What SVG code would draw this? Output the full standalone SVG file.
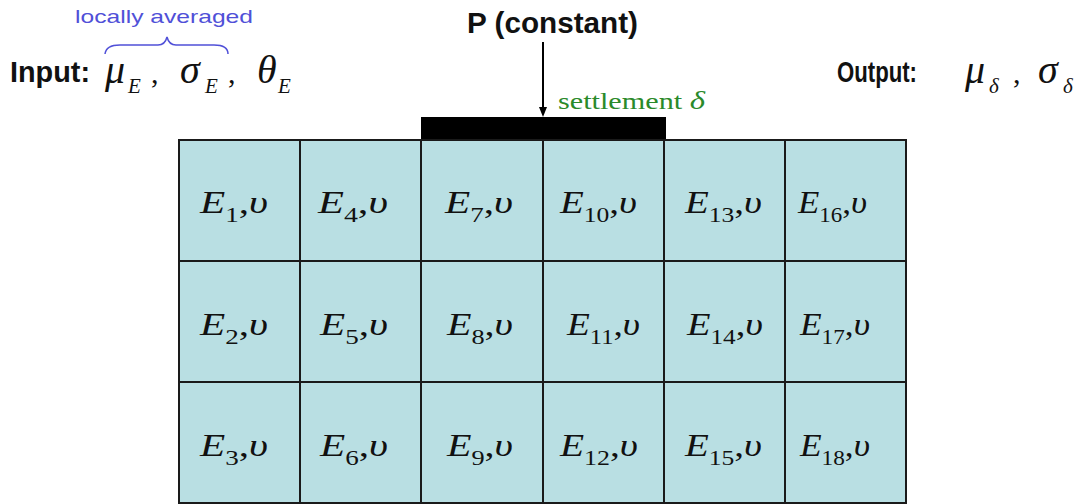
<svg xmlns="http://www.w3.org/2000/svg" width="1086" height="504" viewBox="0 0 1086 504">
<defs>
<style>
.cell{fill:#b9dfe3;stroke:#1a1a1a;stroke-width:2}
.lbl{font-family:"Liberation Serif",serif;font-style:italic;font-size:32px;fill:#111}
.sub{font-style:normal;font-size:21px}
.up{font-style:normal}
.hd{font-family:"Liberation Sans",Arial,sans-serif;font-weight:bold;font-size:29px;fill:#111}
.math{font-family:"Liberation Serif",serif;font-style:italic;font-size:40px;fill:#111}
.msub{font-family:"Liberation Serif",serif;font-style:italic;font-size:21px;fill:#111}
.cm{font-family:"Liberation Serif",serif;font-size:30px;fill:#111}
</style>
</defs>
<rect width="1086" height="504" fill="#fff"/>

<g id="header">
<text x="75" y="23" font-family="Liberation Sans,Arial,sans-serif" font-size="19" fill="#5050d8" textLength="178" lengthAdjust="spacingAndGlyphs">locally averaged</text>
<path d="M105,54 Q106,45 120,45 L158,45 Q165,45 167,37 Q169,45 176,45 L214,45 Q228,45 228,54" fill="none" stroke="#5050d8" stroke-width="1.5"/>
<text class="hd" x="10" y="82" textLength="80" lengthAdjust="spacingAndGlyphs">Input:</text>
<text class="math" x="105" y="83">μ</text><text class="msub" x="128" y="93">E</text><text class="cm" x="151" y="83">,</text>
<text class="math" x="180" y="83">σ</text><text class="msub" x="205" y="93">E</text><text class="cm" x="228" y="83">,</text>
<text class="math" x="257" y="83">θ</text><text class="msub" x="278" y="93">E</text>
<text class="hd" x="837" y="82" textLength="80" lengthAdjust="spacingAndGlyphs">Output:</text>
<text class="math" x="965" y="83">μ</text><text class="msub" x="989" y="93">δ</text><text class="cm" x="1013" y="83">,</text>
<text class="math" x="1038" y="83">σ</text><text class="msub" x="1063" y="93">δ</text>
<text class="hd" x="467" y="33" textLength="171" lengthAdjust="spacingAndGlyphs">P (constant)</text>
<text x="558" y="109" font-family="Liberation Serif,serif" font-size="23" fill="#2a8a2a" textLength="147" lengthAdjust="spacingAndGlyphs">settlement <tspan font-style="italic" font-size="25">δ</tspan></text>
</g>

<g id="footing">
<rect x="421" y="117" width="245" height="23" fill="#000"/>
</g>

<g id="connectors">
<line x1="543" y1="42" x2="543" y2="110" stroke="#000" stroke-width="2"/>
<path d="M539,107 L547,107 L543,117 Z" fill="#000"/>
</g>

<g id="grid">
<g id="c1"><rect class="cell" x="179" y="140" width="121" height="121"/><text class="lbl" x="200" y="213" textLength="68" lengthAdjust="spacingAndGlyphs">E<tspan class="sub" dy="9">1</tspan><tspan class="up" dy="-9">,</tspan>υ</text></g>
<g id="c2"><rect class="cell" x="179" y="261" width="121" height="121"/><text class="lbl" x="200" y="335" textLength="68" lengthAdjust="spacingAndGlyphs">E<tspan class="sub" dy="9">2</tspan><tspan class="up" dy="-9">,</tspan>υ</text></g>
<g id="c3"><rect class="cell" x="179" y="382" width="121" height="121"/><text class="lbl" x="200" y="456" textLength="68" lengthAdjust="spacingAndGlyphs">E<tspan class="sub" dy="9">3</tspan><tspan class="up" dy="-9">,</tspan>υ</text></g>
<g id="c4"><rect class="cell" x="300" y="140" width="121" height="121"/><text class="lbl" x="318" y="213" textLength="70" lengthAdjust="spacingAndGlyphs">E<tspan class="sub" dy="9">4</tspan><tspan class="up" dy="-9">,</tspan>υ</text></g>
<g id="c5"><rect class="cell" x="300" y="261" width="121" height="121"/><text class="lbl" x="320" y="335" textLength="68" lengthAdjust="spacingAndGlyphs">E<tspan class="sub" dy="9">5</tspan><tspan class="up" dy="-9">,</tspan>υ</text></g>
<g id="c6"><rect class="cell" x="300" y="382" width="121" height="121"/><text class="lbl" x="320" y="456" textLength="68" lengthAdjust="spacingAndGlyphs">E<tspan class="sub" dy="9">6</tspan><tspan class="up" dy="-9">,</tspan>υ</text></g>
<g id="c7"><rect class="cell" x="421" y="140" width="122" height="121"/><text class="lbl" x="445" y="213" textLength="68" lengthAdjust="spacingAndGlyphs">E<tspan class="sub" dy="9">7</tspan><tspan class="up" dy="-9">,</tspan>υ</text></g>
<g id="c8"><rect class="cell" x="421" y="261" width="122" height="121"/><text class="lbl" x="447" y="335" textLength="66" lengthAdjust="spacingAndGlyphs">E<tspan class="sub" dy="9">8</tspan><tspan class="up" dy="-9">,</tspan>υ</text></g>
<g id="c9"><rect class="cell" x="421" y="382" width="122" height="121"/><text class="lbl" x="447" y="456" textLength="66" lengthAdjust="spacingAndGlyphs">E<tspan class="sub" dy="9">9</tspan><tspan class="up" dy="-9">,</tspan>υ</text></g>
<g id="c10"><rect class="cell" x="543" y="140" width="121" height="121"/><text class="lbl" x="560" y="213" textLength="77" lengthAdjust="spacingAndGlyphs">E<tspan class="sub" dy="9">10</tspan><tspan class="up" dy="-9">,</tspan>υ</text></g>
<g id="c11"><rect class="cell" x="543" y="261" width="121" height="121"/><text class="lbl" x="567" y="335" textLength="73" lengthAdjust="spacingAndGlyphs">E<tspan class="sub" dy="9">11</tspan><tspan class="up" dy="-9">,</tspan>υ</text></g>
<g id="c12"><rect class="cell" x="543" y="382" width="121" height="121"/><text class="lbl" x="560" y="456" textLength="78" lengthAdjust="spacingAndGlyphs">E<tspan class="sub" dy="9">12</tspan><tspan class="up" dy="-9">,</tspan>υ</text></g>
<g id="c13"><rect class="cell" x="664" y="140" width="121" height="121"/><text class="lbl" x="685" y="213" textLength="77" lengthAdjust="spacingAndGlyphs">E<tspan class="sub" dy="9">13</tspan><tspan class="up" dy="-9">,</tspan>υ</text></g>
<g id="c14"><rect class="cell" x="664" y="261" width="121" height="121"/><text class="lbl" x="687" y="335" textLength="76" lengthAdjust="spacingAndGlyphs">E<tspan class="sub" dy="9">14</tspan><tspan class="up" dy="-9">,</tspan>υ</text></g>
<g id="c15"><rect class="cell" x="664" y="382" width="121" height="121"/><text class="lbl" x="685" y="456" textLength="77" lengthAdjust="spacingAndGlyphs">E<tspan class="sub" dy="9">15</tspan><tspan class="up" dy="-9">,</tspan>υ</text></g>
<g id="c16"><rect class="cell" x="785" y="140" width="121" height="121"/><text class="lbl" x="798" y="213" textLength="69" lengthAdjust="spacingAndGlyphs">E<tspan class="sub" dy="9">16</tspan><tspan class="up" dy="-9">,</tspan>υ</text></g>
<g id="c17"><rect class="cell" x="785" y="261" width="121" height="121"/><text class="lbl" x="800" y="335" textLength="70" lengthAdjust="spacingAndGlyphs">E<tspan class="sub" dy="9">17</tspan><tspan class="up" dy="-9">,</tspan>υ</text></g>
<g id="c18"><rect class="cell" x="785" y="382" width="121" height="121"/><text class="lbl" x="800" y="456" textLength="70" lengthAdjust="spacingAndGlyphs">E<tspan class="sub" dy="9">18</tspan><tspan class="up" dy="-9">,</tspan>υ</text></g>
</g>
</svg>
